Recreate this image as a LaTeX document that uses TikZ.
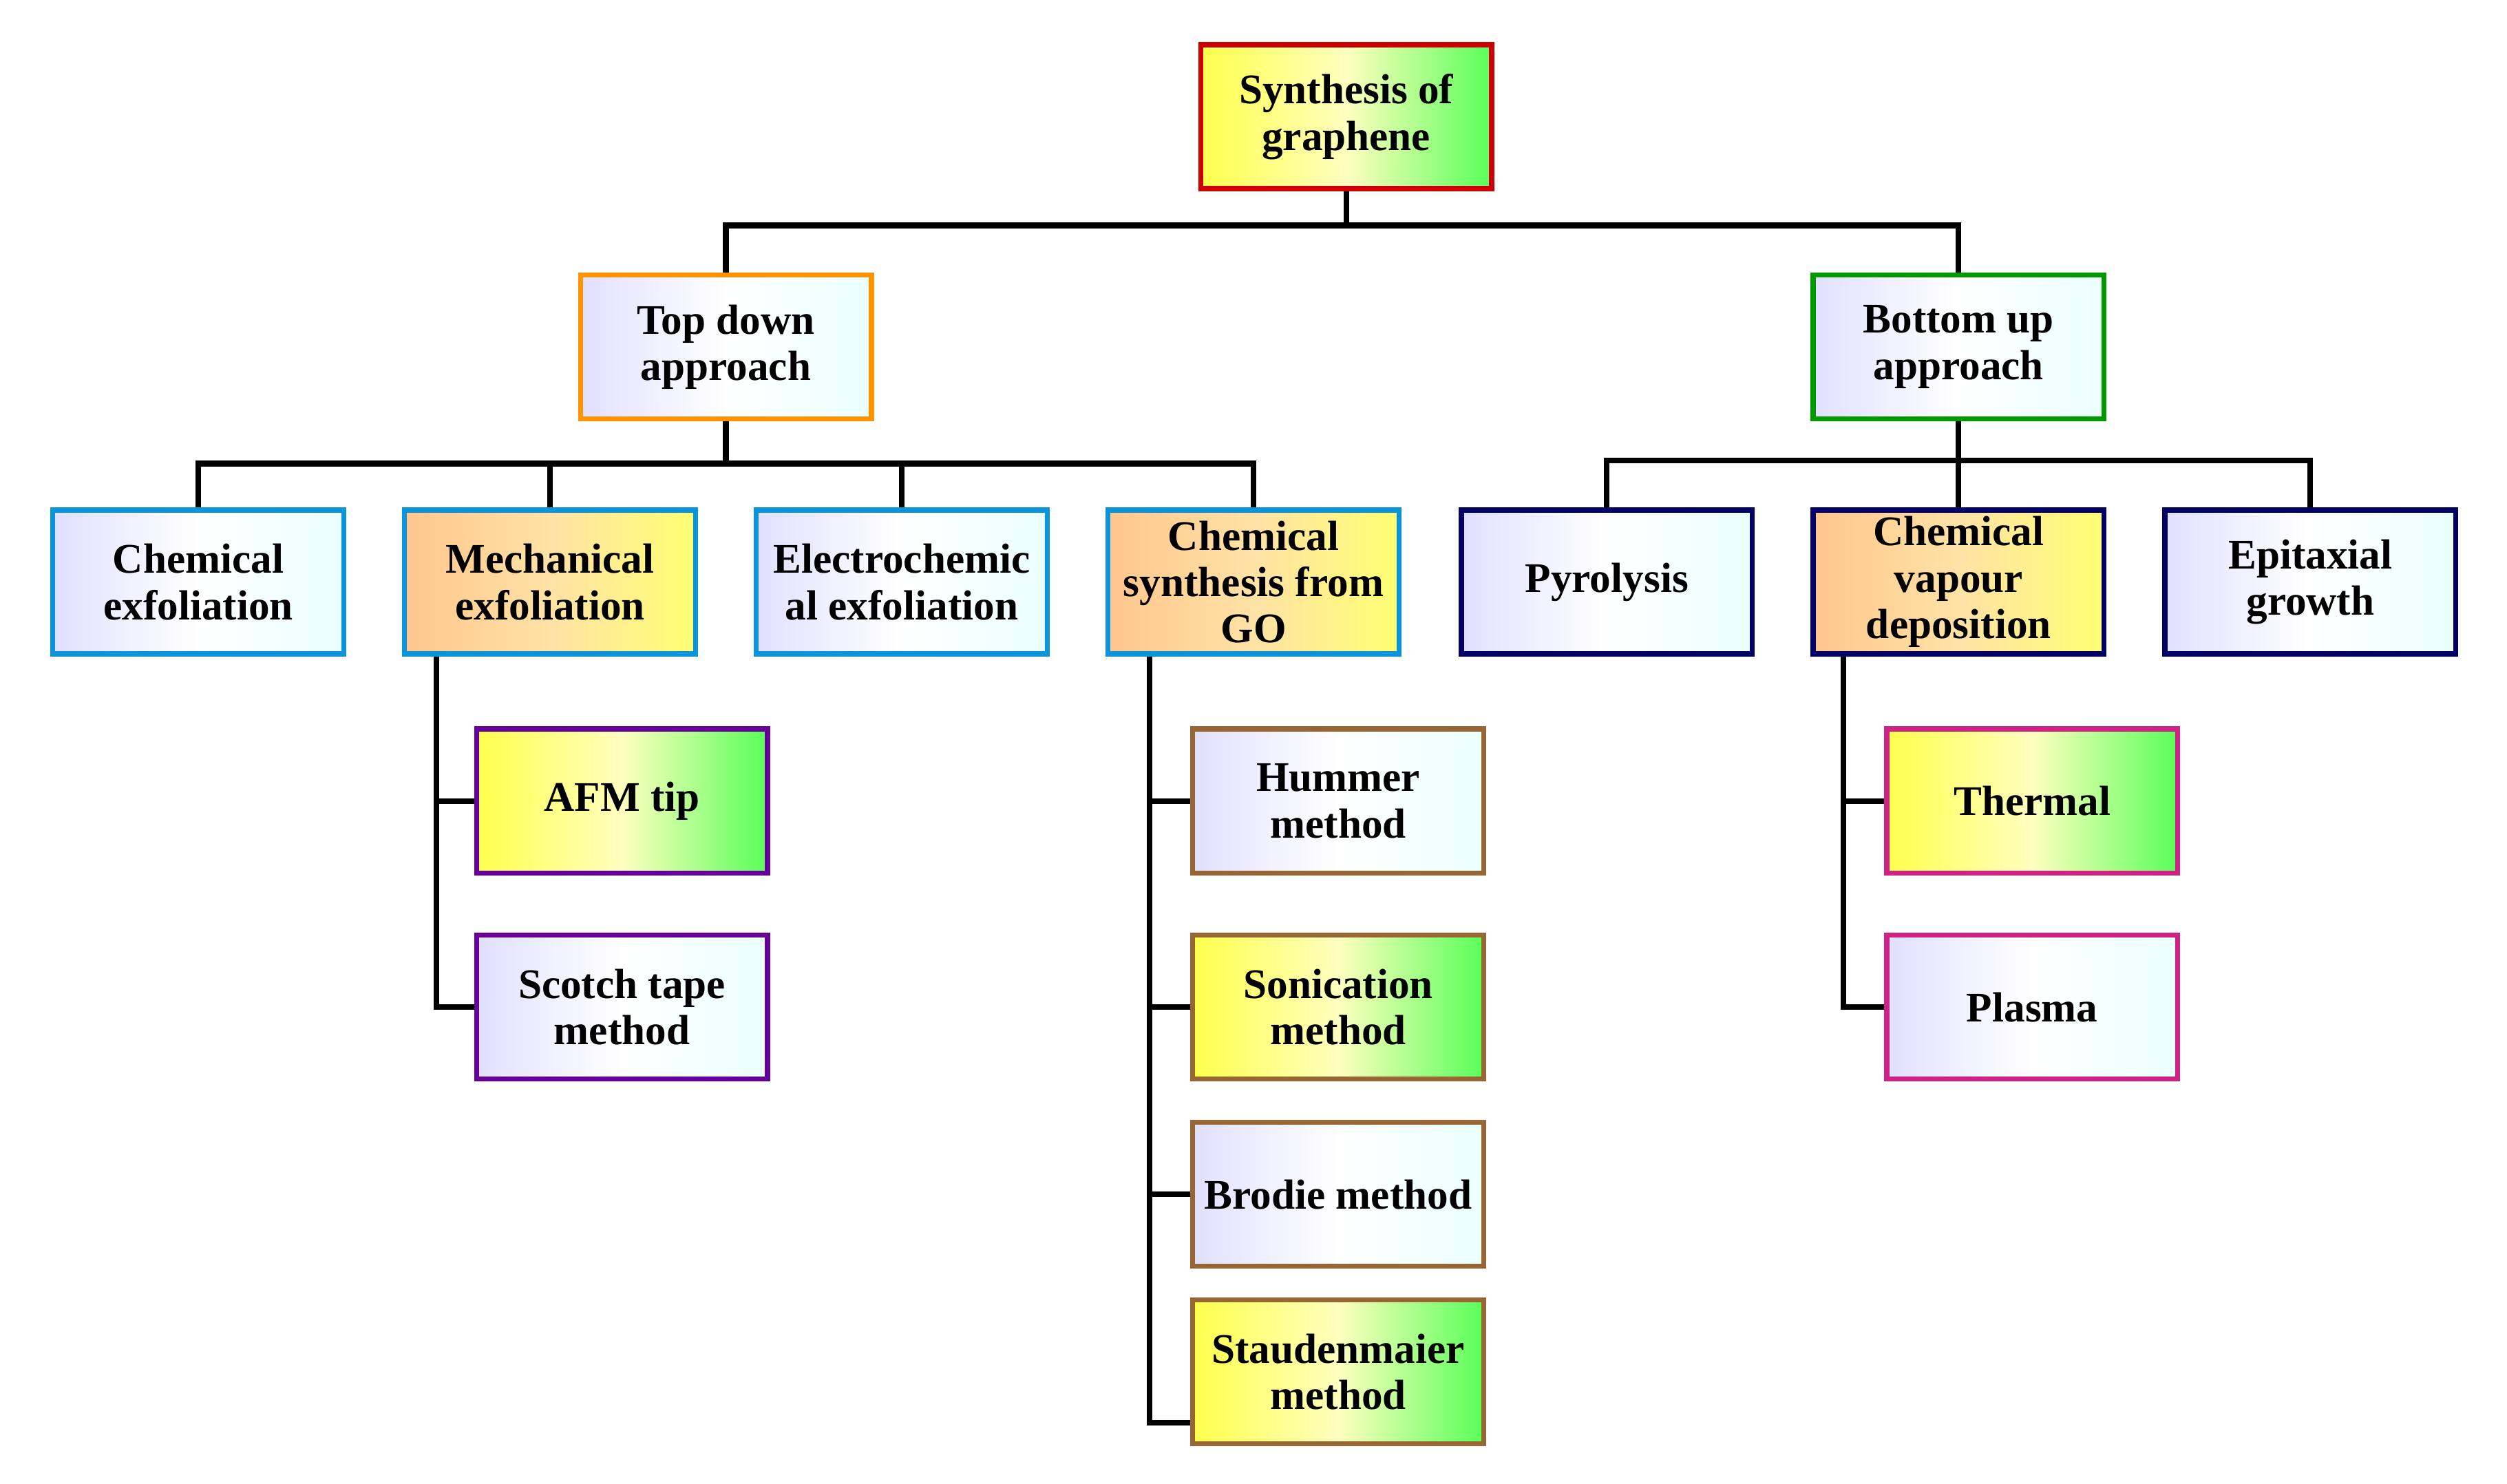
\documentclass[tikz,border=0pt]{standalone}
\usepackage{fontspec}
\setmainfont{Liberation Serif}
\begin{document}
\begin{tikzpicture}[x=0.02cm,y=-0.02cm,
  box/.style={draw, line width=1.8pt, minimum width=3.64cm, minimum height=1.8cm, inner sep=1pt,
    align=center, font=\fontsize{15}{16.5}\selectfont\bfseries},
  yg/.style={box, shading angle=135, left color=yellow!70!white, right color=green!65!white, middle color=yellow!25!white},
  oy/.style={box, left color=orange!45!white, right color=yellow!55!white, middle color=yellow!35!orange!35!white},
  ir/.style={box, left color=blue!12!white, right color=cyan!8!white, middle color=white},
  ln/.style={line width=2pt, black}]
\useasboundingbox (0,0) rectangle (1568,928);
\node[yg, draw=red!80!black] (root) at (842,73) {Synthesis of\\graphene};
\node[ir, draw=orange!85!yellow] (td) at (454,217) {Top down\\approach};
\node[ir, draw=green!60!black] (bu) at (1225,217) {Bottom up\\approach};
\node[ir, draw=cyan!80!blue] (ce) at (124,364) {Chemical\\exfoliation};
\node[oy, draw=cyan!80!blue] (me) at (344,364) {Mechanical\\exfoliation};
\node[ir, draw=cyan!80!blue] (ee) at (564,364) {Electrochemic\\al exfoliation};
\node[oy, draw=cyan!80!blue] (cs) at (784,364) {Chemical\\synthesis from\\GO};
\node[ir, draw=blue!40!black] (py) at (1005,364) {Pyrolysis};
\node[oy, draw=blue!40!black] (cvd) at (1225,364) {Chemical\\vapour\\deposition};
\node[ir, draw=blue!40!black] (ep) at (1445,364) {Epitaxial\\growth};
\node[yg, draw=violet!80!blue] (afm) at (389,501) {AFM tip};
\node[ir, draw=violet!80!blue] (sc) at (389,630) {Scotch tape\\method};
\node[ir, draw=brown!80!black] (hu) at (837,501) {Hummer\\method};
\node[yg, draw=brown!80!black] (so) at (837,630) {Sonication\\method};
\node[ir, draw=brown!80!black] (br) at (837,747) {Brodie method};
\node[yg, draw=brown!80!black] (st) at (837,858) {Staudenmaier\\method};
\node[yg, draw=magenta!85!black] (th) at (1271,501) {Thermal};
\node[ir, draw=magenta!85!black] (pl) at (1271,630) {Plasma};
% connectors
\draw[ln] (root.south) |- (454,141) -- (td.north);
\draw[ln] (root.south) |- (1225,141) -- (bu.north);
\foreach \n in {ce,me,ee,cs} \draw[ln] (td.south) |- (\n.north |- 0,290) -- (\n.north);
\foreach \n in {py,cvd,ep} \draw[ln] (bu.south) |- (\n.north |- 0,288) -- (\n.north);
\foreach \n in {afm,sc} \draw[ln] (273,0 |- me.south) -- (273,0 |- \n.west) -- (\n.west);
\foreach \n in {hu,so,br} \draw[ln] (719,0 |- cs.south) -- (719,0 |- \n.west) -- (\n.west);
\draw[ln] (719,0 |- cs.south) -- (719,890) -- (st.west |- 0,890);
\foreach \n in {th,pl} \draw[ln] (1153,0 |- cvd.south) -- (1153,0 |- \n.west) -- (\n.west);
\end{tikzpicture}
\end{document}
